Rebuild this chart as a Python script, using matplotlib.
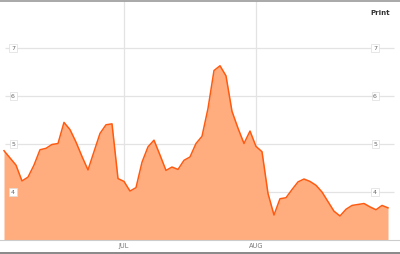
import matplotlib
matplotlib.use("Agg")
import matplotlib.pyplot as plt
from matplotlib.lines import Line2D
import numpy as np

values = [4.86, 4.71, 4.56, 4.23, 4.31, 4.56, 4.88, 4.91, 4.99, 5.01,
          5.45, 5.30, 5.04, 4.74, 4.46, 4.84, 5.22, 5.40, 5.42, 4.28,
          4.22, 4.02, 4.09, 4.62, 4.94, 5.08, 4.77, 4.45, 4.52, 4.47,
          4.66, 4.73, 5.01, 5.16, 5.74, 6.53, 6.63, 6.42, 5.68, 5.33,
          5.01, 5.27, 4.95, 4.84, 3.97, 3.52, 3.86, 3.88, 4.05, 4.21,
          4.27, 4.22, 4.14, 4.00, 3.80, 3.60, 3.50, 3.64, 3.72, 3.74,
          3.76, 3.69, 3.63, 3.72, 3.67]
month_ticks = [20, 42]
month_labels = ["JUL", "AUG"]
y_ticks = [4, 5, 6, 7]

W, H = 400, 254
fig = plt.figure(figsize=(W / 100, H / 100), dpi=100)
fig.patch.set_facecolor("white")

# axes: pixel 0..400 horizontally, pixel rows 1..240 vertically
ax = fig.add_axes([0, (H - 240) / H, 1, 239 / H])
x = np.arange(len(values))
px2i = lambda p: (p - 4) / 6.0
ax.set_xlim(px2i(0), px2i(400))
ax.set_ylim(3, 3 + 239 / 48.0)

for s in ["top", "left", "right"]:
    ax.spines[s].set_visible(False)
ax.spines["bottom"].set_color("#cccccc")
ax.spines["bottom"].set_linewidth(0.8)
ax.set_xticks([])
ax.set_yticks([])

# gridlines
ax.hlines(y_ticks, px2i(5), px2i(394), colors="#e3e3e3", linewidth=0.9, zorder=1)
ax.vlines(month_ticks, 3, 3 + 239 / 48.0, colors="#e3e3e3", linewidth=0.9, zorder=1)

ax.fill_between(x, 3, values, color="#ffad7f", linewidth=0, zorder=2)
ax.plot(x, values, color="#ff5a10", linewidth=1.1, zorder=3)

box = dict(boxstyle="square,pad=0.25", fc="white", ec="#dddddd", lw=0.5)
for v in y_ticks:
    ax.text(px2i(13), v, str(v), fontsize=4.5, color="#666666",
            ha="center", va="center", bbox=box, zorder=4)
    ax.text(px2i(375), v, str(v), fontsize=4.5, color="#666666",
            ha="center", va="center", bbox=box, zorder=4)

for t, lab in zip(month_ticks, month_labels):
    ax.text(t, 3 - 6 / 48.0, lab, fontsize=4.8, color="#777777",
            ha="center", va="center", clip_on=False)

fig.text(380 / W, 1 - 13 / H, "Print", fontsize=5, color="#333333",
         fontweight="bold", ha="center", va="center")

# borders
fig.add_artist(Line2D([0, 1], [1 - 1 / H, 1 - 1 / H], color="#999999", linewidth=1.2))
fig.add_artist(Line2D([0, 1], [1.5 / H, 1.5 / H], color="#888888", linewidth=1.4))

fig.savefig("out.png", dpi=100, facecolor="white")
